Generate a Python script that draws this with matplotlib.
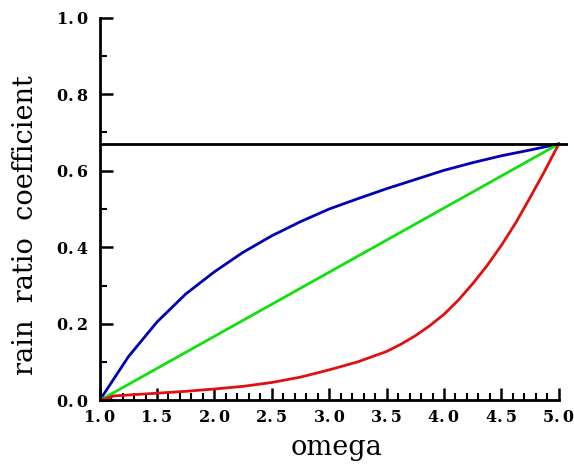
import matplotlib
matplotlib.use("Agg")
import matplotlib.pyplot as plt
from matplotlib.ticker import MultipleLocator, FuncFormatter

# omega grid the curves were sampled on
omega = [1.0, 1.25, 1.5, 1.75, 2.0, 2.25, 2.5, 2.75, 3.0,
         3.25, 3.5, 3.75, 4.0, 4.25, 4.5, 4.75, 5.0]
blue_vals = [0.0, 0.114, 0.205, 0.278, 0.336, 0.387, 0.430, 0.467, 0.500,
             0.527, 0.553, 0.577, 0.601, 0.621, 0.639, 0.654, 0.670]

# red case is steep near the end, so it is sampled finer there
red_x = [1.0, 1.125, 1.5, 1.75, 2.0, 2.25, 2.5, 2.75, 3.0, 3.25, 3.5,
         3.625, 3.75, 3.875, 4.0, 4.125, 4.25, 4.375, 4.5, 4.625, 4.75,
         4.875, 5.0]
red_vals = [0.0, 0.012, 0.019, 0.024, 0.030, 0.037, 0.047, 0.061, 0.080,
            0.101, 0.128, 0.147, 0.169, 0.195, 0.225, 0.262, 0.305, 0.352,
            0.405, 0.464, 0.530, 0.598, 0.670]

green_x = [1.0, 5.0]
green_vals = [0.0, 0.670]
limit_val = 0.670

fig = plt.figure(figsize=(5.74, 4.67), dpi=100)
ax = fig.add_axes([0.1735, 0.1424, 0.8160, 0.8201])

lw = 2.0
ax.axhline(limit_val, color="black", lw=lw, zorder=3)
ax.plot(omega, blue_vals, color="#0000b4", lw=lw)
ax.plot(green_x, green_vals, color="#10e010", lw=lw)
ax.plot(red_x, red_vals, color="#e01010", lw=lw)

ax.set_xlim(1.0, 5.08)
ax.set_ylim(0.0, 1.0)

for side in ["top", "right"]:
    ax.spines[side].set_visible(False)
ax.spines["left"].set_linewidth(2.0)
ax.spines["bottom"].set_linewidth(2.0)
ax.spines["bottom"].set_bounds(1.0, 5.0)

ax.xaxis.set_major_locator(MultipleLocator(0.5))
ax.xaxis.set_minor_locator(MultipleLocator(0.1))
ax.yaxis.set_major_locator(MultipleLocator(0.2))
ax.yaxis.set_minor_locator(MultipleLocator(0.1))

fmt = FuncFormatter(lambda v, p: f"{v:.1f}".replace(".", ".\u2009"))
ax.xaxis.set_major_formatter(fmt)
ax.yaxis.set_major_formatter(fmt)

ax.tick_params(which="major", direction="in", length=9, width=1.8, pad=6)
ax.tick_params(which="minor", direction="in", length=5, width=1.5)
ax.tick_params(axis="y", which="major", pad=8)
for lab in ax.get_xticklabels() + ax.get_yticklabels():
    lab.set_fontfamily("DejaVu Serif")
    lab.set_fontweight("bold")
    lab.set_fontsize(11.5)

fig.text(0.587, 0.041, "omega", ha="center", va="center",
         family="DejaVu Serif", fontsize=19.5)
fig.text(0.044, 0.518, "rain  ratio  coefficient", ha="center", va="center",
         rotation=90, family="DejaVu Serif", fontsize=19.5)

fig.savefig("out.png", dpi=100)
